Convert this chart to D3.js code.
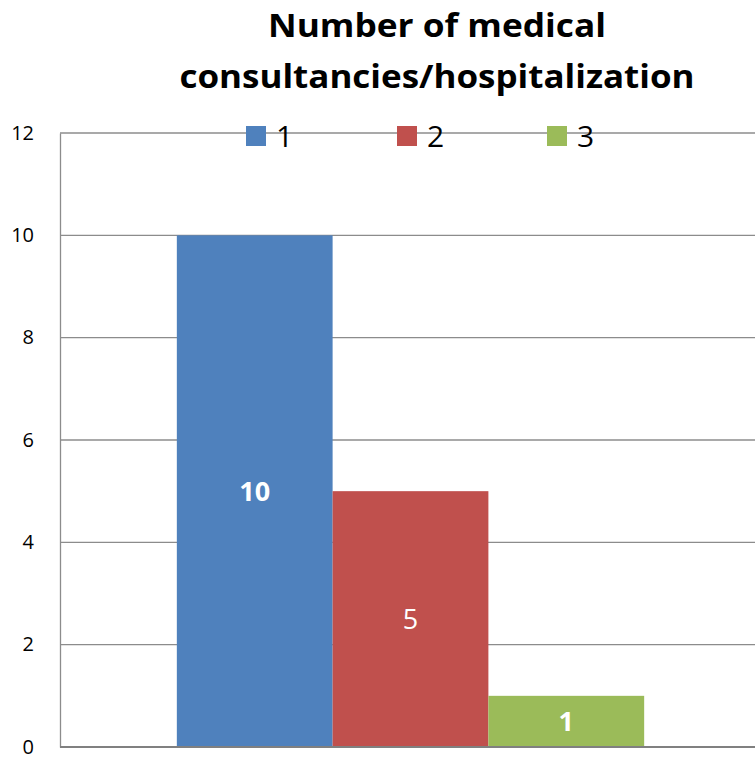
<!DOCTYPE html>
<html>
<head>
<meta charset="utf-8">
<script src="https://cdn.jsdelivr.net/npm/d3@7"></script>
<style>
  html, body { margin: 0; padding: 0; background: #fff; }
  svg { display: block; }
</style>
</head>
<body>
<svg id="chart" width="755" height="758"></svg>
<script>
// Chart data
const titleLines = ["Number of medical", "consultancies/hospitalization"];
const series = ["1", "2", "3"];
const values = [10, 5, 1];
const colors = ["#4F81BD", "#C0504D", "#9BBB59"];
const labelBold = [true, false, true];
const yTicks = [0, 2, 4, 6, 8, 10, 12];

const font = "'Open Sans', 'Liberation Sans', sans-serif";
const svg = d3.select("#chart");

const plot = { left: 60, right: 761, top: 133, bottom: 747 };

const y = d3.scaleLinear().domain([0, 12]).range([plot.bottom, plot.top]);
const x = d3.scaleBand().domain(series)
  .range([plot.left, plot.right])
  .paddingInner(0).paddingOuter(0.75);

// Horizontal gridlines
svg.append("g").selectAll("line")
  .data(yTicks.filter(d => d > 0))
  .join("line")
  .attr("x1", plot.left).attr("x2", plot.right)
  .attr("y1", d => y(d)).attr("y2", d => y(d))
  .attr("stroke", "#8c8c8c").attr("stroke-width", 1.3);

// Y axis with tick labels
const yAxis = d3.axisLeft(y).tickValues(yTicks).tickSize(0).tickPadding(26);
const gy = svg.append("g").attr("transform", `translate(${plot.left},0)`).call(yAxis);
gy.select(".domain").attr("stroke", "#8c8c8c").attr("stroke-width", 1.3);
gy.selectAll("text")
  .attr("font-family", font).attr("font-size", 20).attr("fill", "#000")
  .attr("dy", "0.3em");

// Bars
svg.append("g").selectAll("rect")
  .data(values)
  .join("rect")
  .attr("x", (d, i) => x(series[i]))
  .attr("width", x.bandwidth())
  .attr("y", d => y(d))
  .attr("height", d => y(0) - y(d))
  .attr("fill", (d, i) => colors[i]);

// Value labels inside bars
svg.append("g").selectAll("text")
  .data(values)
  .join("text")
  .attr("x", (d, i) => x(series[i]) + x.bandwidth() / 2)
  .attr("y", d => (y(d) + y(0)) / 2)
  .attr("dy", "0.36em")
  .attr("text-anchor", "middle")
  .attr("font-family", font)
  .attr("font-size", 27)
  .attr("font-weight", (d, i) => labelBold[i] ? "bold" : "normal")
  .attr("fill", "#fff")
  .text(d => d);

// Bottom axis line
svg.append("line")
  .attr("x1", plot.left).attr("x2", plot.right)
  .attr("y1", y(0)).attr("y2", y(0))
  .attr("stroke", "#808080").attr("stroke-width", 2);

// Legend
const legendX = [246, 397, 547];
const lg = svg.append("g").selectAll("g")
  .data(series)
  .join("g")
  .attr("transform", (d, i) => `translate(${legendX[i]},126)`);
lg.append("rect").attr("width", 20).attr("height", 20)
  .attr("fill", (d, i) => colors[i]);
lg.append("text")
  .attr("x", 30).attr("y", 10).attr("dy", "0.36em")
  .attr("font-family", font).attr("font-size", 30).attr("fill", "#000")
  .text(d => d);

// Title
const titleWidths = [338, 515];
svg.append("g").selectAll("text")
  .data(titleLines)
  .join("text")
  .attr("x", 437)
  .attr("y", (d, i) => 37 + i * 51)
  .attr("text-anchor", "middle")
  .attr("font-family", font)
  .attr("font-weight", "bold")
  .attr("font-size", 33)
  .attr("textLength", (d, i) => titleWidths[i])
  .attr("lengthAdjust", "spacingAndGlyphs")
  .attr("fill", "#000")
  .text(d => d);
</script>
</body>
</html>
